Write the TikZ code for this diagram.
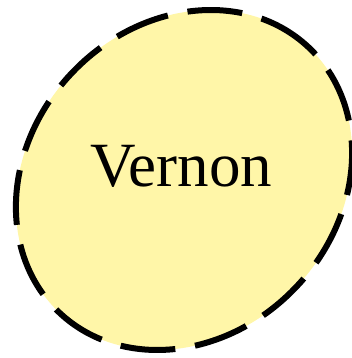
\documentclass[tikz,border=0pt]{standalone}
\usepackage{fontspec}
\setmainfont{Liberation Serif}
\usepackage{tikz}
\definecolor{bubblefill}{HTML}{FFF6A8}
\tikzset{
  bubble/.style={draw=black, fill=bubblefill, line width=6pt, dash pattern=on 55pt off 20pt},
  bubblelabel/.style={font=\fontsize{63}{70}\selectfont, inner sep=0pt, anchor=base},
}
\begin{document}
\begin{tikzpicture}[x=1pt, y=1pt]
  \useasboundingbox (0,0) rectangle (351,358);
  \coordinate (vc) at (184,178);
  \draw[bubble, rotate around={47:(vc)}] (vc) ellipse [x radius=182, y radius=155];
  \node[bubblelabel] (vernon) at (181,171) {Vernon};
\end{tikzpicture}
\end{document}
